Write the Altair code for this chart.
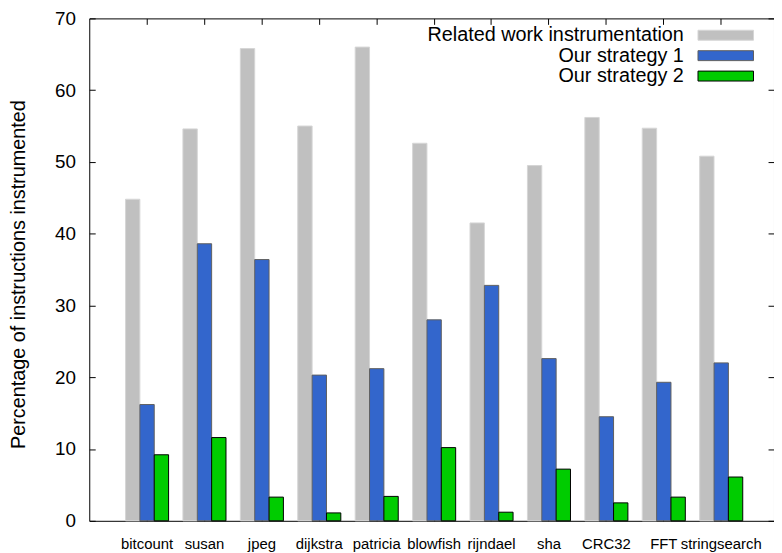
import altair as alt
import pandas as pd

FONT = "Liberation Sans"

categories = ["bitcount", "susan", "jpeg", "dijkstra", "patricia", "blowfish",
              "rijndael", "sha", "CRC32", "FFT", "stringsearch"]
series = ["Related work instrumentation", "Our strategy 1", "Our strategy 2"]
related = [44.8, 54.6, 65.8, 55.0, 66.0, 52.6, 41.5, 49.5, 56.2, 54.7, 50.8]
strategy1 = [16.2, 38.6, 36.4, 20.3, 21.2, 28.0, 32.8, 22.6, 14.5, 19.3, 22.0]
strategy2 = [9.2, 11.6, 3.3, 1.1, 3.4, 10.2, 1.2, 7.2, 2.5, 3.3, 6.1]
y_ticks = [0, 10, 20, 30, 40, 50, 60, 70]
fills = ["#c0c0c0", "#3366cc", "#00cc00"]
strokes = ["#d6d6d6", "#5f5f5f", "#000000"]

rows = []
for s, vals in zip(series, [related, strategy1, strategy2]):
    for c, v in zip(categories, vals):
        rows.append({"benchmark": c, "series": s, "value": v})
df = pd.DataFrame(rows)
leg_df = pd.DataFrame({"series": series})

fill_enc = alt.Fill("series:N", scale=alt.Scale(domain=series, range=fills), legend=None)
stroke_enc = alt.Stroke("series:N", scale=alt.Scale(domain=series, range=strokes), legend=None)
x_scale = alt.Scale(domain=categories, paddingInner=0.25, paddingOuter=0.588, align=0.537)
y_scale = alt.Scale(domain=[0, 70], nice=False, zero=True)
xoff = alt.XOffset("series:N", sort=series, scale=alt.Scale(domain=series, paddingInner=0, paddingOuter=0))

bars = alt.Chart(df).mark_bar(strokeWidth=1).encode(
    x=alt.X("benchmark:N", sort=categories, scale=x_scale,
            axis=alt.Axis(orient="bottom", title=None, offset=-6, tickSize=6, domain=False,
                          labelAngle=0, labelPadding=27.5, labelBaseline="alphabetic",
                          labelFontSize=15, labelFont=FONT, labelColor="black",
                          tickColor="black")),
    xOffset=xoff,
    y=alt.Y("value:Q", scale=y_scale,
            axis=alt.Axis(orient="left", values=y_ticks, offset=-6, tickSize=6, domain=False,
                          grid=False, labelPadding=14, labelFontSize=19, labelFont=FONT,
                          labelColor="black", tickColor="black",
                          title="Percentage of instructions instrumented",
                          titleFont=FONT, titleFontSize=20, titleFontWeight="normal",
                          titleColor="black", titleAngle=270, titleAlign="center",
                          titleBaseline="alphabetic", titleX=-71, titleY=258)),
    fill=fill_enc,
    stroke=stroke_enc,
)

mirror = alt.Chart(df).mark_bar(opacity=0).encode(
    x=alt.X("benchmark:N", sort=categories, scale=x_scale,
            axis=alt.Axis(orient="top", title=None, offset=-6, tickSize=6, domain=False,
                          labels=False, tickColor="black")),
    xOffset=xoff,
    y=alt.Y("value:Q", scale=y_scale,
            axis=alt.Axis(orient="right", values=y_ticks, offset=-6, tickSize=6, domain=False,
                          grid=False, labels=False, title=None, tickColor="black")),
)

leg_y = alt.Y("series:N", sort=series, axis=None,
              scale=alt.Scale(type="point", domain=series, range=[17, 58.2], padding=0))

leg_text = alt.Chart(leg_df).mark_text(
    align="right", baseline="middle", fontSize=20, font=FONT, color="black"
).encode(x=alt.value(600), y=leg_y, text="series:N")

leg_sym = alt.Chart(leg_df).mark_point(
    shape="M-1,-0.179L1,-0.179L1,0.179L-1,0.179Z", size=3136, filled=True,
    opacity=1, strokeWidth=1
).encode(x=alt.value(642.3), y=leg_y, fill=fill_enc, stroke=stroke_enc)

chart = alt.layer(bars, mirror, leg_text, leg_sym).resolve_scale(
    y="independent"
).resolve_axis(
    x="independent", y="independent"
).properties(
    width=691, height=507,
    padding={"left": 82, "top": 8, "right": 0, "bottom": 30},
    autosize=alt.AutoSizeParams(type="none"),
    background="white",
).configure_view(
    stroke="black", strokeWidth=1
)

chart.save("out.html", embed_options={"renderer": "svg", "actions": False})
